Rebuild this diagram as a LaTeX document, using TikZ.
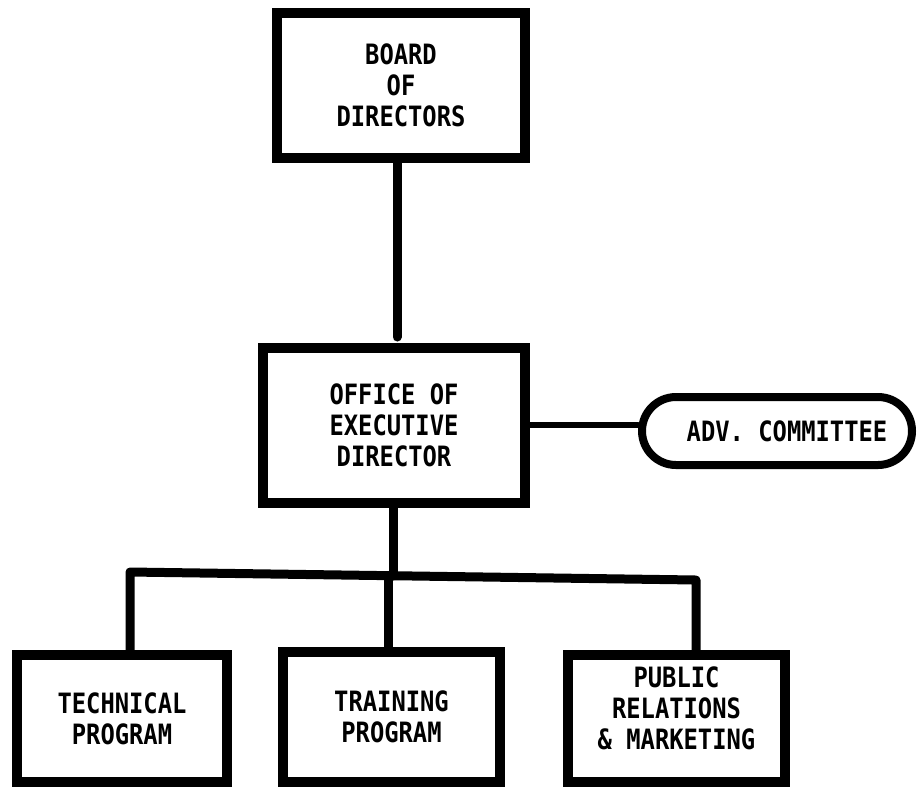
\documentclass[tikz,border=0pt]{standalone}
\usepackage{fontspec}
\newfontfamily\typew[FakeStretch=0.85]{DejaVu Sans Mono Bold}
\begin{document}
\begin{tikzpicture}[x=1pt,y=-1pt,
  orgbox/.style={draw=black,line width=10pt,rectangle,align=center,inner sep=0pt,
    font=\typew\fontsize{28}{31}\selectfont},
  pill/.style={draw=black,line width=8pt,rectangle,rounded corners=34pt,align=center,inner sep=0pt,
    font=\typew\fontsize{28}{31}\selectfont},
  link/.style={line width=9pt,line cap=round,line join=round},
  thinlink/.style={line width=6pt,line cap=round}]
\useasboundingbox (0,0) rectangle (920,788);
\node[orgbox,minimum width=248pt,minimum height=145pt] (board) at (401,85.5) {BOARD\\OF\\DIRECTORS};
\node[orgbox,minimum width=262pt,minimum height=155pt] (office) at (394,425.5) {OFFICE OF\\EXECUTIVE\\DIRECTOR};
\node[pill,minimum width=270pt,minimum height=68pt] (adv) at (777,431) {\hspace{20pt}ADV. COMMITTEE};
\node[orgbox,minimum width=210pt,minimum height=127pt] (tech) at (122,718.5) {TECHNICAL\\PROGRAM};
\node[orgbox,minimum width=217pt,minimum height=130pt] (train) at (391.5,717) {TRAINING\\PROGRAM};
\node[orgbox,minimum width=217pt,minimum height=127pt] (pr) at (676.5,718.5) {PUBLIC\\RELATIONS\\\& MARKETING\\[-10pt]\mbox{}};
\coordinate (bend) at (397,337);
\coordinate (busmid) at (393,576);
\coordinate (busl) at (130,572);
\coordinate (busr) at (696,580);
\draw[link] (board.south -| bend) -- (bend);
\draw[thinlink] (office.east |- 0,425) -- (adv.west |- 0,425);
\draw[link] (office.south -| busmid) -- (busmid);
\draw[link] (tech.north -| busl) -- (busl) -- (busr) -- (pr.north -| busr);
\draw[link] (busmid) ++(-5,0) |- (train.north -| 388,0);
\end{tikzpicture}
\end{document}
